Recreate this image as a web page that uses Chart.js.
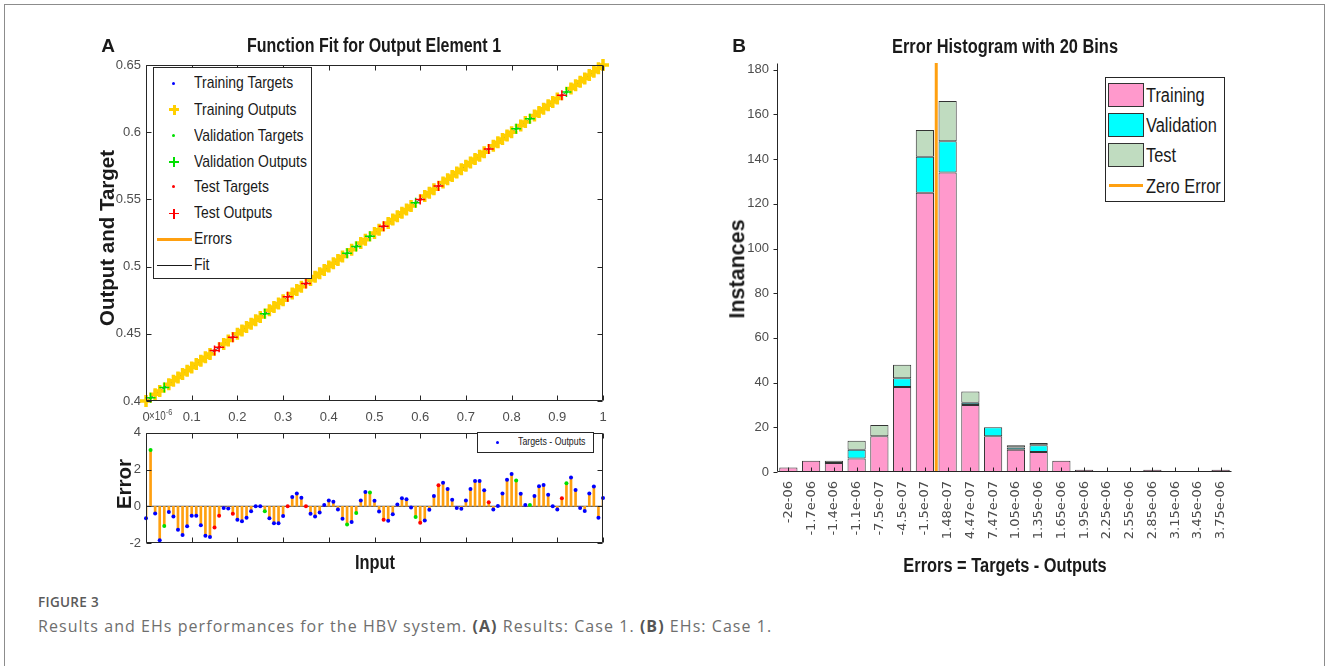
<!DOCTYPE html>
<html>
<head>
<meta charset="utf-8">
<script src="https://cdn.jsdelivr.net/npm/chart.js@4.4.1/dist/chart.umd.min.js"></script>
<style>
  body { margin:0; width:1328px; height:666px; background:#fff; position:relative; overflow:hidden; font-family:'Liberation Sans', Arial, sans-serif; color:#1a1a1a; }
  .abs { position:absolute; white-space:nowrap; line-height:1; }
  .c { transform:translate(-50%,-50%) scaleX(0.82); }
  .rot { transform:translate(-50%,-50%) rotate(-90deg); }
  .sx { transform-origin:0 50%; transform:scaleX(0.82); }
  .b { font-weight:bold; }
  canvas { position:absolute; }
  .frame { position:absolute; left:4px; top:4px; width:1319px; height:700px; border:1px solid #8c8c8c; }
  .box { position:absolute; border:1px solid #262626; background:#fff; }
  .sq { position:absolute; }
  .lg { position:absolute; white-space:nowrap; line-height:20px; height:20px; font-size:17px; transform-origin:0 50%; transform:scaleX(0.82); }
</style>
</head>
<body>
<div class="frame"></div>

<canvas id="fit" width="560" height="400" style="left:60px;top:30px"></canvas>
<canvas id="err" width="560" height="140" style="left:60px;top:420px"></canvas>
<canvas id="hist" width="560" height="520" style="left:700px;top:40px"></canvas>

<!-- panel A texts -->
<div class="abs b" style="left:108px;top:45px;font-size:19px;transform:translate(-50%,-50%)">A</div>
<div class="abs c b" style="left:374px;top:46px;font-size:19.5px">Function Fit for Output Element 1</div>
<div class="abs rot b" style="left:107px;top:238px;font-size:20.5px">Output and Target</div>
<div class="abs rot b" style="left:124px;top:484px;font-size:20.5px">Error</div>
<div class="abs c b" style="left:375px;top:562px;font-size:20px">Input</div>
<div class="abs sx" style="left:149px;top:408px;font-size:12px;color:#4d4d4d">×10<sup style="font-size:9px;vertical-align:5px">-6</sup></div>

<!-- legend of the fit plot -->
<div class="box" style="left:153px;top:67px;width:157px;height:210px"></div>
<div class="sq" style="left:172px;top:82px;width:3px;height:3px;border-radius:50%;background:#0000ff"></div>
<div class="sq" style="left:169px;top:108px;width:10px;height:3px;background:#ffcf00"></div>
<div class="sq" style="left:172.5px;top:104.5px;width:3px;height:10px;background:#ffcf00"></div>
<div class="sq" style="left:172px;top:134px;width:3px;height:3px;border-radius:50%;background:#00e000"></div>
<div class="sq" style="left:169px;top:161px;width:10px;height:1.5px;background:#00e000"></div>
<div class="sq" style="left:173.3px;top:157px;width:1.5px;height:10px;background:#00e000"></div>
<div class="sq" style="left:172px;top:185px;width:3px;height:3px;border-radius:50%;background:#ff0000"></div>
<div class="sq" style="left:169px;top:212.5px;width:10px;height:1.5px;background:#ff0000"></div>
<div class="sq" style="left:173.3px;top:208.5px;width:1.5px;height:10px;background:#ff0000"></div>
<div class="sq" style="left:157px;top:238px;width:35px;height:3px;background:#ffa010"></div>
<div class="sq" style="left:157px;top:264.5px;width:35px;height:1px;background:#1a1a1a"></div>
<div class="lg" style="left:194px;top:73px">Training Targets</div>
<div class="lg" style="left:194px;top:100px">Training Outputs</div>
<div class="lg" style="left:194px;top:126px">Validation Targets</div>
<div class="lg" style="left:194px;top:152px">Validation Outputs</div>
<div class="lg" style="left:194px;top:177px">Test Targets</div>
<div class="lg" style="left:194px;top:203px">Test Outputs</div>
<div class="lg" style="left:194px;top:229px">Errors</div>
<div class="lg" style="left:194px;top:255px">Fit</div>

<!-- legend of the error plot -->
<div class="box" style="left:477px;top:432px;width:115px;height:19px"></div>
<div class="sq" style="left:495.5px;top:441px;width:3px;height:3px;border-radius:50%;background:#0000ff"></div>
<div class="abs" style="left:518px;top:436px;font-size:11px;transform-origin:0 50%;transform:scaleX(0.8)">Targets - Outputs</div>

<!-- panel B texts -->
<div class="abs b" style="left:739px;top:45px;font-size:19px;transform:translate(-50%,-50%)">B</div>
<div class="abs c b" style="left:1005px;top:46px;font-size:20px">Error Histogram with 20 Bins</div>
<div class="abs rot b" style="left:738px;top:269px;font-size:21.5px">Instances</div>
<div class="abs c b" style="left:1005px;top:565px;font-size:20px">Errors = Targets - Outputs</div>

<!-- legend of the histogram -->
<div class="box" style="left:1105px;top:77px;width:118px;height:123px"></div>
<div class="sq" style="left:1108px;top:83px;width:34px;height:22px;background:#ff99cc;border:1px solid #333"></div>
<div class="sq" style="left:1108px;top:112.5px;width:34px;height:22px;background:#00ffff;border:1px solid #333"></div>
<div class="sq" style="left:1108px;top:143px;width:34px;height:22px;background:#c0dcc0;border:1px solid #333"></div>
<div class="sq" style="left:1109px;top:184px;width:34px;height:3px;background:#ffa010"></div>
<div class="abs sx" style="left:1146px;top:85px;font-size:20px">Training</div>
<div class="abs sx" style="left:1146px;top:115px;font-size:20px">Validation</div>
<div class="abs sx" style="left:1146px;top:145px;font-size:20px">Test</div>
<div class="abs sx" style="left:1146px;top:176px;font-size:20px">Zero Error</div>

<!-- caption -->
<div class="abs" style="left:38px;top:596px;font-family:'Open Sans',sans-serif;font-size:13.5px;font-weight:600;color:#5a5a5a;letter-spacing:0.3px">FIGURE 3</div>
<div class="abs" style="left:38px;top:618px;font-family:'Open Sans',sans-serif;font-size:16px;color:#6e6e6e;letter-spacing:1.05px">Results and EHs performances for the HBV system. <b style="color:#555">(A)</b> Results: Case 1. <b style="color:#555">(B)</b> EHs: Case 1.</div>

<script>
// ---- panel A data ----
const inputs = [0,0.01,0.02,0.03,0.04,0.05,0.06,0.07,0.08,0.09,
  0.1,0.11,0.12,0.13,0.14,0.15,0.16,0.17,0.18,0.19,
  0.2,0.21,0.22,0.23,0.24,0.25,0.26,0.27,0.28,0.29,
  0.3,0.31,0.32,0.33,0.34,0.35,0.36,0.37,0.38,0.39,
  0.4,0.41,0.42,0.43,0.44,0.45,0.46,0.47,0.48,0.49,
  0.5,0.51,0.52,0.53,0.54,0.55,0.56,0.57,0.58,0.59,
  0.6,0.61,0.62,0.63,0.64,0.65,0.66,0.67,0.68,0.69,
  0.7,0.71,0.72,0.73,0.74,0.75,0.76,0.77,0.78,0.79,
  0.8,0.81,0.82,0.83,0.84,0.85,0.86,0.87,0.88,0.89,
  0.9,0.91,0.92,0.93,0.94,0.95,0.96,0.97,0.98,0.99,1]

const targets = [0.4,0.4025,0.405,0.4075,0.41,0.4125,0.415,0.4175,0.42,0.4225,
  0.425,0.4275,0.43,0.4325,0.435,0.4375,0.44,0.4425,0.445,0.4475,
  0.45,0.4525,0.455,0.4575,0.46,0.4625,0.465,0.4675,0.47,0.4725,
  0.475,0.4775,0.48,0.4825,0.485,0.4875,0.49,0.4925,0.495,0.4975,
  0.5,0.5025,0.505,0.5075,0.51,0.5125,0.515,0.5175,0.52,0.5225,
  0.525,0.5275,0.53,0.5325,0.535,0.5375,0.54,0.5425,0.545,0.5475,
  0.55,0.5525,0.555,0.5575,0.56,0.5625,0.565,0.5675,0.57,0.5725,
  0.575,0.5775,0.58,0.5825,0.585,0.5875,0.59,0.5925,0.595,0.5975,
  0.6,0.6025,0.605,0.6075,0.61,0.6125,0.615,0.6175,0.62,0.6225,
  0.625,0.6275,0.63,0.6325,0.635,0.6375,0.64,0.6425,0.645,0.6475,0.65]

// outputs differ from targets only by ~1e-6, so on this scale they sit on the same spots
const outputs = targets

// errors in units of 1e-6
const errors = [-0.65,3.06,-0.39,-1.85,-1.08,-0.31,-0.56,-1.28,-1.56,-1.09,
  -0.51,-0.51,-1.04,-1.6,-1.68,-1.16,-0.51,-0.09,-0.12,-0.41,
  -0.73,-0.82,-0.62,-0.27,0,0,-0.27,-0.65,-0.92,-0.92,
  -0.53,0,0.51,0.7,0.46,0,-0.41,-0.56,-0.34,0.07,
  0.32,0.24,-0.17,-0.68,-0.99,-0.85,-0.36,0.32,0.77,0.75,
  0.3,-0.28,-0.73,-0.79,-0.43,0.1,0.44,0.38,-0.07,-0.58,
  -0.9,-0.77,-0.19,0.56,1.15,1.28,0.94,0.36,-0.1,-0.14,
  0.31,0.94,1.37,1.37,0.87,0.22,-0.17,0.02,0.7,1.45,
  1.76,1.4,0.68,0.07,0.07,0.56,1.09,1.16,0.63,0,
  -0.17,0.43,1.25,1.57,0.89,-0.1,-0.26,0.7,1.08,-0.62,0.45]

const validIdx = [1,4,26,44,46,49,59,81,84,92]
const testIdx = [15,16,19,31,35,52,60,64,75,91]

const fitX = [0, 1]
const fitY = [0.4, 0.65]

// ---- panel B data ----
const binLabels = ["-2e-06","-1.7e-06","-1.4e-06","-1.1e-06","-7.5e-07","-4.5e-07","-1.5e-07","1.48e-07",
  "4.47e-07","7.47e-07","1.05e-06","1.35e-06","1.65e-06","1.95e-06","2.25e-06","2.55e-06",
  "2.85e-06","3.15e-06","3.45e-06","3.75e-06"]
const histTraining = [2,5,4,6,16,38,125,134,30,16,10,9,5,1,0,0,1,0,0,1]
const histValidation = [0,0,0,4,0,4,16,14,1,4,1,3,0,0,0,0,0,0,0,0]
const histTest = [0,0,1,4,5,6,12,18,5,0,1,1,0,0,0,0,0,0,0,0]
const zeroErrorBin = 6.5   // zero lies between bin 7 and bin 8
const histYMax = 183

// colours
const yellow = "#ffcf00", orange = "#ffa010", blue = "#0000ff", green = "#00e000", red = "#ff0000"
const axisColor = "#262626", tickColor = "#4d4d4d"

function group(i) {
  if (validIdx.includes(i)) return "valid"
  if (testIdx.includes(i)) return "test"
  return "train"
}
function pts(ys, which) {
  let out = []
  inputs.forEach((x, i) => { if (group(i) === which) out.push({x: x, y: ys[i]}) })
  return out
}

// MATLAB-like box and tick marks
const matlabAxes = {
  id: "matlabAxes",
  afterDatasetsDraw(chart, args, opts) {
    const {ctx, chartArea: a, scales} = chart
    const L = Math.round(a.left) + 0.5, R = Math.round(a.right) - 0.5
    const T = Math.round(a.top) + 0.5, B = Math.round(a.bottom) - 0.5
    ctx.save()
    ctx.strokeStyle = axisColor
    ctx.lineWidth = 1
    ctx.beginPath()
    if (opts.mode === "box") {
      ctx.rect(L, T, R - L, B - T)
      scales.x.ticks.forEach((t, i) => {
        const x = Math.round(scales.x.getPixelForTick(i)) + 0.5
        ctx.moveTo(x, B); ctx.lineTo(x, B - 5)
        ctx.moveTo(x, T); ctx.lineTo(x, T + 5)
      })
      scales.y.ticks.forEach((t, i) => {
        const y = Math.round(scales.y.getPixelForTick(i)) + 0.5
        ctx.moveTo(L, y); ctx.lineTo(L + 5, y)
        ctx.moveTo(R, y); ctx.lineTo(R - 5, y)
      })
    } else {
      ctx.moveTo(L, T); ctx.lineTo(L, B); ctx.lineTo(R, B)
      scales.y.ticks.forEach((t, i) => {
        const y = Math.round(scales.y.getPixelForTick(i)) + 0.5
        ctx.moveTo(L, y); ctx.lineTo(L - 4, y)
      })
      scales.x.ticks.forEach((t, i) => {
        const x = Math.round(scales.x.getPixelForTick(i)) + 0.5
        ctx.moveTo(x, B); ctx.lineTo(x, B - 4)
      })
    }
    ctx.stroke()
    ctx.restore()
  }
}

const noGrid = {display: false, drawTicks: false}
const noBorder = {display: false}
const tickFont = {family: "'Liberation Sans',Arial,sans-serif", size: 13}

// ---------- fit plot ----------
new Chart(document.getElementById("fit"), {
  type: "scatter",
  data: {
    datasets: [
      {label: "Test Outputs", data: pts(outputs, "test"), pointStyle: "cross", radius: 5, borderWidth: 1.5, borderColor: red, order: 1, clip: false},
      {label: "Validation Outputs", data: pts(outputs, "valid"), pointStyle: "cross", radius: 5, borderWidth: 1.5, borderColor: green, order: 2, clip: false},
      {label: "Training Outputs", data: pts(outputs, "train"), pointStyle: "cross", radius: 6, borderWidth: 3.5, borderColor: yellow, order: 3, clip: false},
      {label: "Fit", type: "line", data: fitX.map((x, i) => ({x: x, y: fitY[i]})), borderColor: "#555", borderWidth: 1, pointRadius: 0, order: 4},
      {label: "Test Targets", data: pts(targets, "test"), radius: 1.5, backgroundColor: red, borderWidth: 0, order: 5},
      {label: "Validation Targets", data: pts(targets, "valid"), radius: 1.5, backgroundColor: green, borderWidth: 0, order: 5},
      {label: "Training Targets", data: pts(targets, "train"), radius: 1.5, backgroundColor: blue, borderWidth: 0, order: 5}
    ]
  },
  options: {
    responsive: false, animation: false, devicePixelRatio: 1,
    layout: {padding: {top: 35, right: 17, bottom: 0, left: 0}},
    plugins: {legend: {display: false}, tooltip: {enabled: false}, matlabAxes: {mode: "box"}},
    scales: {
      x: {type: "linear", min: 0, max: 1, offset: false, grid: noGrid, border: noBorder,
        ticks: {stepSize: 0.1, padding: 9, color: tickColor, font: tickFont, maxRotation: 0,
          callback: v => String(+v.toFixed(1))},
        afterFit: s => { s.height = 29 }},
      y: {type: "linear", min: 0.4, max: 0.65, grid: noGrid, border: noBorder,
        ticks: {stepSize: 0.05, padding: 5, color: tickColor, font: tickFont,
          callback: v => String(+v.toFixed(2))},
        afterFit: s => { s.width = 86 }}
    }
  },
  plugins: [matlabAxes]
})

// ---------- error plot ----------
function errPts(which) {
  let out = []
  inputs.forEach((x, i) => { if (group(i) === which) out.push({x: x, y: errors[i]}) })
  return out
}
new Chart(document.getElementById("err"), {
  type: "scatter",
  data: {
    datasets: [
      {label: "Training", data: errPts("train"), radius: 2, backgroundColor: blue, borderWidth: 0, order: 0, clip: false},
      {label: "Validation", data: errPts("valid"), radius: 2, backgroundColor: green, borderWidth: 0, order: 0, clip: false},
      {label: "Test", data: errPts("test"), radius: 2, backgroundColor: red, borderWidth: 0, order: 0, clip: false},
      {label: "Errors", type: "bar", data: inputs.map((x, i) => ({x: x, y: errors[i]})), backgroundColor: orange, barThickness: 2, grouped: false, order: 5},
      {label: "Zero", type: "line", data: fitX.map(x => ({x: x, y: 0})), borderColor: "#333", borderWidth: 1, pointRadius: 0, order: 6}
    ]
  },
  options: {
    responsive: false, animation: false, devicePixelRatio: 1,
    layout: {padding: {top: 6, right: 17, bottom: 0, left: 0}},
    plugins: {legend: {display: false}, tooltip: {enabled: false}, matlabAxes: {mode: "box"}},
    scales: {
      x: {type: "linear", min: 0, max: 1, offset: false, grid: noGrid, border: noBorder,
        ticks: {stepSize: 0.1, display: false}, afterFit: s => { s.height = 17 }},
      y: {type: "linear", min: -2, max: 4, grid: noGrid, border: noBorder,
        ticks: {stepSize: 2, padding: 5, color: tickColor, font: tickFont},
        afterFit: s => { s.width = 86 }}
    }
  },
  plugins: [matlabAxes]
})

// ---------- histogram ----------
const barStyle = {borderColor: "#333", borderWidth: 1, borderSkipped: false, grouped: false,
  barPercentage: 0.8, categoryPercentage: 1, order: 1}
new Chart(document.getElementById("hist"), {
  type: "bar",
  data: {
    labels: binLabels,
    datasets: [
      {label: "Zero Error", type: "line", xAxisID: "xz", yAxisID: "yz",
        data: [{x: zeroErrorBin, y: 0}, {x: zeroErrorBin, y: histYMax}],
        borderColor: orange, borderWidth: 3, pointRadius: 0, order: 0},
      Object.assign({label: "Training", data: histTraining, backgroundColor: "#ff99cc"}, barStyle),
      Object.assign({label: "Validation", data: histValidation, backgroundColor: "#00ffff"}, barStyle),
      Object.assign({label: "Test", data: histTest, backgroundColor: "#c0dcc0"}, barStyle)
    ]
  },
  options: {
    responsive: false, animation: false, devicePixelRatio: 1,
    layout: {padding: {top: 23, right: 28, bottom: 0, left: 0}},
    plugins: {legend: {display: false}, tooltip: {enabled: false}, matlabAxes: {mode: "hist"}},
    scales: {
      x: {stacked: true, offset: true, grid: noGrid, border: noBorder,
        ticks: {autoSkip: false, minRotation: 90, maxRotation: 90, padding: 9, color: tickColor,
          font: {family: "'DejaVu Sans',sans-serif", size: 13}},
        afterFit: s => { s.height = 88 }},
      y: {stacked: true, min: 0, max: histYMax, grid: noGrid, border: noBorder,
        ticks: {stepSize: 20, includeBounds: false, padding: 8, color: tickColor, font: {family: "'Liberation Sans',Arial,sans-serif", size: 13}},
        afterFit: s => { s.width = 77 }},
      xz: {type: "linear", min: -0.5, max: 19.5, offset: false, display: false},
      yz: {type: "linear", min: 0, max: histYMax, offset: false, display: false}
    }
  },
  plugins: [matlabAxes]
})
</script>
</body>
</html>
